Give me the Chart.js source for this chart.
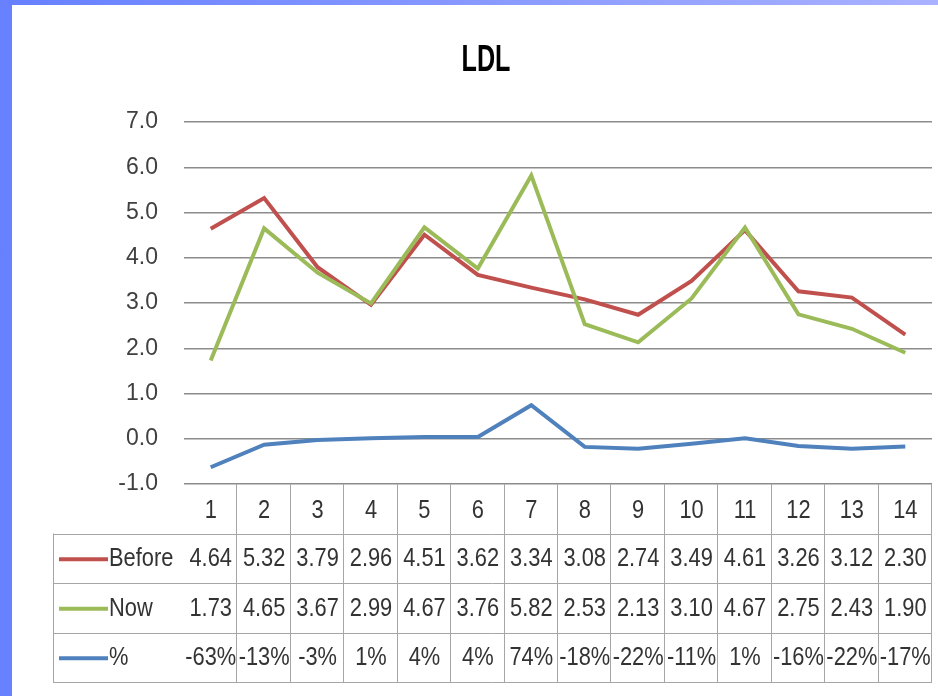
<!DOCTYPE html>
<html>
<head>
<meta charset="utf-8">
<title>LDL</title>
<script src="https://cdn.jsdelivr.net/npm/chart.js@4.4.1/dist/chart.umd.min.js"></script>
<style>
  html, body { margin: 0; padding: 0; }
  body {
    width: 938px;
    height: 696px;
    overflow: hidden;
    background: linear-gradient(to right, #6680ff, #a9b2ff);
  }
  #panel {
    position: absolute;
    left: 12px;
    top: 5px;
    width: 926px;
    height: 691px;
    background: #fff;
  }
  canvas { display: block; }
</style>
</head>
<body>
<div id="panel"><canvas id="ldlChart" width="926" height="691"></canvas></div>
<script>
// Data
const chartTitle = 'LDL';
const categories = ['1', '2', '3', '4', '5', '6', '7', '8', '9', '10', '11', '12', '13', '14'];
const seriesNames = ['Before', 'Now', '%'];
const beforeValues = [4.64, 5.32, 3.79, 2.96, 4.51, 3.62, 3.34, 3.08, 2.74, 3.49, 4.61, 3.26, 3.12, 2.30];
const nowValues = [1.73, 4.65, 3.67, 2.99, 4.67, 3.76, 5.82, 2.53, 2.13, 3.10, 4.67, 2.75, 2.43, 1.90];
const percentValues = [-63, -13, -3, 1, 4, 4, 74, -18, -22, -11, 1, -16, -22, -17];
const yMin = -1.0;
const yMax = 7.0;

const colors = ['#c0504d', '#9bbb59', '#4f81bd'];
const textFont = "'Liberation Sans', Arial, sans-serif";

// draw text squeezed horizontally (the original uses a narrow font)
function narrowText(ctx, text, x, y, squeeze, align) {
    ctx.save();
    ctx.translate(x, y);
    ctx.scale(squeeze, 1);
    ctx.textAlign = align;
    ctx.fillText(text, 0, 0);
    ctx.restore();
}

// Title and Excel style data table under the x axis
const dataTablePlugin = {
    id: 'dataTable',
    afterDraw(chart) {
        const ctx = chart.ctx;
        const x = chart.scales.x;
        const area = chart.chartArea;
        const step = x.getPixelForValue(1) - x.getPixelForValue(0);
        const rowH = 49.5;
        const tableLeft = 41;
        const top = area.bottom;
        const bottom = top + rowH * 4;
        const rows = [
            beforeValues.map(v => v.toFixed(2)),
            nowValues.map(v => v.toFixed(2)),
            percentValues.map(v => v + '%')
        ];

        ctx.save();
        // title
        ctx.fillStyle = '#000000';
        ctx.textBaseline = 'alphabetic';
        ctx.font = 'bold 37px ' + textFont;
        narrowText(ctx, chartTitle, 474, 66, 0.68, 'center');

        ctx.strokeStyle = '#a6a6a6';
        ctx.lineWidth = 1;

        // horizontal lines
        for (let r = 1; r <= 4; r++) {
            const y = Math.round(top + rowH * r) + 0.5;
            ctx.beginPath();
            ctx.moveTo(tableLeft, y);
            ctx.lineTo(area.right, y);
            ctx.stroke();
        }
        // vertical lines between categories and on the right edge
        for (let k = 1; k <= categories.length; k++) {
            const xx = Math.round(x.getPixelForValue(0) - step / 2 + step * k) - 0.5;
            ctx.beginPath();
            ctx.moveTo(xx, top);
            ctx.lineTo(xx, bottom);
            ctx.stroke();
        }
        ctx.beginPath();
        ctx.moveTo(tableLeft + 0.5, top + rowH);
        ctx.lineTo(tableLeft + 0.5, bottom);
        ctx.stroke();

        ctx.fillStyle = '#333333';
        ctx.textBaseline = 'middle';
        ctx.font = '26px ' + textFont;

        // header row: category labels
        categories.forEach((c, i) => {
            narrowText(ctx, c, x.getPixelForValue(i), top + rowH / 2 + 2, 0.84, 'center');
        });

        // series rows
        rows.forEach((vals, r) => {
            const cy = top + rowH * (r + 1) + rowH / 2 + 1;
            ctx.strokeStyle = colors[r];
            ctx.lineWidth = 4;
            ctx.beginPath();
            ctx.moveTo(tableLeft + 6, cy);
            ctx.lineTo(tableLeft + 55, cy);
            ctx.stroke();
            narrowText(ctx, seriesNames[r], tableLeft + 56, cy, 0.84, 'left');
            vals.forEach((t, i) => {
                narrowText(ctx, t, x.getPixelForValue(i), cy, 0.84, 'center');
            });
        });
        ctx.restore();
    }
};

const ctx = document.getElementById('ldlChart').getContext('2d');
const ldlChart = new Chart(ctx, {
    type: 'line',
    data: {
        labels: categories,
        datasets: [{
            label: seriesNames[0],
            data: beforeValues,
            borderColor: colors[0],
            order: 2
        }, {
            label: seriesNames[1],
            data: nowValues,
            borderColor: colors[1],
            order: 1
        }, {
            label: seriesNames[2],
            data: percentValues.map(v => v / 100),
            borderColor: colors[2],
            order: 0
        }]
    },
    options: {
        responsive: false,
        animation: false,
        layout: { padding: { left: 0, right: 6, top: 117, bottom: 0 } },
        elements: {
            line: { borderWidth: 4, tension: 0, fill: false },
            point: { radius: 0, hoverRadius: 0 }
        },
        plugins: {
            legend: { display: false },
            tooltip: { enabled: false },
            title: { display: false }
        },
        scales: {
            x: {
                offset: true,
                grid: { display: false },
                border: { display: false },
                ticks: { display: false },
                afterFit: (scale) => { scale.height = 212; }
            },
            y: {
                min: yMin,
                max: yMax,
                grid: { color: '#8c8c8c', lineWidth: 1.5, drawTicks: false },
                border: { display: false },
                ticks: {
                    stepSize: 1,
                    padding: 26,
                    color: '#404040',
                    font: { family: textFont, size: 23 },
                    callback: (v) => v.toFixed(1)
                },
                afterFit: (scale) => { scale.width = 172; }
            }
        }
    },
    plugins: [dataTablePlugin]
});
</script>
</body>
</html>
